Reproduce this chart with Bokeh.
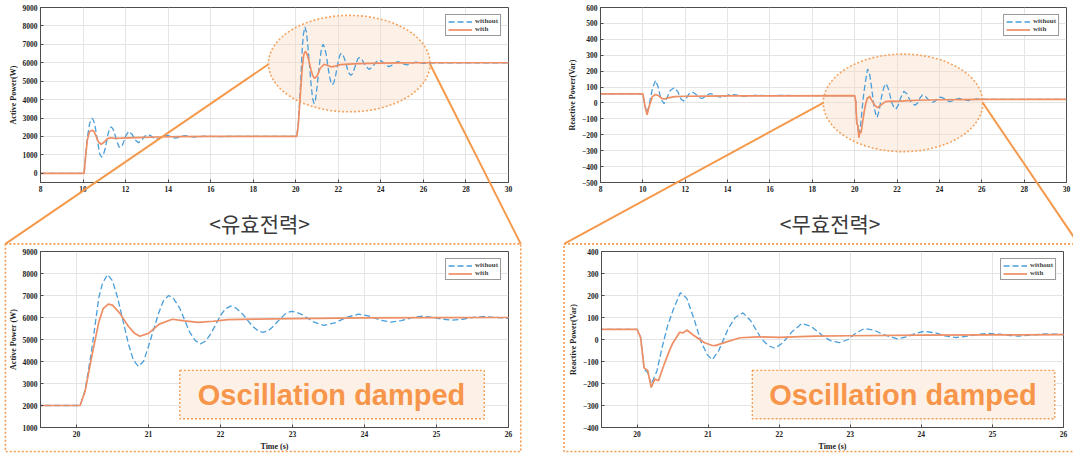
from bokeh.plotting import figure
from bokeh.models import (Range1d, FixedTicker, Legend, LegendItem, Label)
from bokeh.layouts import row, column
from bokeh.embed import file_html
from bokeh.resources import INLINE

# ---------------- data ----------------
SERIES_NAMES = ["without", "with"]

T_P_WITHOUT = [8.0, 10.05, 10.12, 10.2, 10.3, 10.36, 10.43, 10.5, 10.58, 10.73, 10.8, 10.88, 10.95,
               11.03, 11.17, 11.25, 11.32, 11.39, 11.46, 11.61, 11.68, 11.75, 11.82, 11.88, 12.02,
               12.15, 12.3, 12.45, 12.6, 12.74, 12.89, 13.03, 13.17, 13.32, 13.46, 13.6, 13.75, 13.9,
               14.05, 14.2, 14.35, 14.5, 14.65, 14.8, 15.0, 15.25, 15.5, 15.7, 16.0, 16.2, 17.0, 20.05,
               20.12, 20.21, 20.31, 20.36, 20.43, 20.5, 20.57, 20.72, 20.79, 20.86, 20.93, 20.99,
               21.14, 21.21, 21.28, 21.35, 21.43, 21.57, 21.65, 21.72, 21.79, 21.86, 22.0, 22.07,
               22.14, 22.21, 22.29, 22.44, 22.52, 22.59, 22.66, 22.72, 22.86, 22.92, 22.99, 23.06,
               23.14, 23.29, 23.44, 23.6, 23.76, 23.92, 24.07, 24.22, 24.37, 24.51, 24.66, 24.8,
               24.94, 25.08, 25.22, 25.36, 25.5, 25.65, 25.8, 26.0, 26.2, 27.0, 30.0]
P_WITHOUT = [0, 0, 900, 1900, 2650, 2880, 2990, 2850, 2460, 1410, 1000, 880, 1000,
             1290, 2110, 2420, 2520, 2440, 2240, 1670, 1460, 1390, 1470, 1610, 2060,
             2280, 2125, 1815, 1660, 1770, 2000, 2110, 2045, 1915, 1850, 1905, 2015, 2070,
             2030, 1950, 1910, 1945, 2015, 2050, 2005, 1960, 1990, 2020, 2000, 1990, 2000, 2000,
             2700, 4500, 6900, 7550, 7950, 7670, 6910, 4820, 4060, 3780, 4000, 4585,
             6195, 6780, 7000, 6850, 6450, 5350, 4950, 4800, 4920, 5230, 6090, 6400,
             6520, 6440, 6220, 5620, 5400, 5320, 5390, 5560, 6040, 6220, 6280, 6230,
             6120, 5800, 5640, 5770, 6020, 6150, 6060, 5880, 5790, 5860, 5990, 6060,
             6015, 5925, 5880, 5920, 6000, 6040, 6010, 5965, 5985, 6000, 6000]

T_P_WITH = [8.0, 10.05, 10.12, 10.2, 10.3, 10.38, 10.45, 10.52, 10.6, 10.72, 10.85, 11.0, 11.15,
            11.3, 11.5, 11.8, 12.5, 13.5, 14.5, 16.0, 20.05, 20.12, 20.21, 20.31, 20.37, 20.44,
            20.5, 20.6, 20.72, 20.8, 20.88, 21.0, 21.15, 21.33, 21.5, 21.69, 21.9, 22.1, 22.5,
            23.0, 24.0, 25.0, 26.0, 30.0]
P_WITH = [0, 0, 900, 1800, 2250, 2320, 2330, 2260, 2050, 1700, 1570, 1700, 1880,
          1930, 1900, 1910, 1940, 1970, 1990, 2000, 2000, 2650, 4200, 5800, 6400, 6610,
          6560, 6200, 5600, 5300, 5150, 5280, 5700, 5920, 5850, 5780, 5830, 5900, 5930,
          5950, 5980, 5990, 6000, 6000]

T_Q_WITHOUT = [8.0, 10.0, 10.1, 10.2, 10.3, 10.45, 10.6, 10.72, 10.85, 11.0, 11.13, 11.3, 11.5,
               11.65, 11.8, 11.92, 12.05, 12.2, 12.32, 12.5, 12.65, 12.8, 12.95, 13.1, 13.22,
               13.4, 13.6, 13.75, 13.95, 14.15, 14.4, 14.7, 15.0, 15.4, 15.8, 16.5, 18.0, 20.0,
               20.05, 20.1, 20.15, 20.2, 20.28, 20.35, 20.43, 20.51, 20.61, 20.7, 20.8, 20.9,
               20.99, 21.06, 21.15, 21.28, 21.38, 21.49, 21.6, 21.75, 21.85, 21.94, 22.05,
               22.18, 22.32, 22.45, 22.6, 22.72, 22.85, 22.97, 23.08, 23.2, 23.33, 23.47,
               23.66, 23.8, 23.92, 24.04, 24.2, 24.35, 24.49, 24.65, 24.8, 24.94, 25.1, 25.25,
               25.37, 25.55, 25.75, 25.9, 26.0, 27.0, 30.0]
Q_WITHOUT = [57, 57, -20, -65, -10, 90, 142, 100, 25, -5, 30, 80, 97,
             70, 25, 12, 30, 60, 70, 55, 35, 28, 40, 55, 58,
             48, 38, 36, 46, 54, 50, 42, 44, 49, 46, 47, 46, 46,
             10, -136, -150, -203, -143, -40, 62, 136, 213, 187, 95, -10,
             -70, -92, -50, 47, 100, 121, 85, 3, -28, -40, -15,
             35, 73, 60, 20, -5, -14, 0, 30, 50, 43, 22,
             3, 12, 28, 37, 30, 15, 9, 15, 24, 28, 24, 18,
             15, 20, 25, 24, 22, 23, 22]

T_Q_WITH = [8.0, 10.0, 10.1, 10.2, 10.3, 10.45, 10.6, 10.75, 10.9, 11.0, 11.2, 11.5, 12.0, 13.0,
            14.0, 16.0, 20.0, 20.05, 20.1, 20.15, 20.2, 20.25, 20.3, 20.38, 20.45, 20.5, 20.6,
            20.65, 20.7, 20.8, 20.95, 21.05, 21.1, 21.25, 21.45, 21.7, 22.0, 22.5, 23.0, 24.0,
            25.0, 26.0, 30.0]
Q_WITH = [57, 57, -20, -75, -20, 40, 53, 45, 28, 25, 32, 40, 42, 43,
          44, 45, 46, 10, -130, -140, -218, -180, -188, -115, -55, -18, 33,
          30, 43, 18, -15, -26, -28, -12, 8, 12, 10, 15, 17, 20,
          21, 22, 22]

X_TICKS_FULL = [8, 10, 12, 14, 16, 18, 20, 22, 24, 26, 28, 30]
X_TICKS_ZOOM = [20, 21, 22, 23, 24, 25, 26]
P_TICKS_FULL = [0, 1000, 2000, 3000, 4000, 5000, 6000, 7000, 8000, 9000]
P_TICKS_ZOOM = [1000, 2000, 3000, 4000, 5000, 6000, 7000, 8000, 9000]
Q_TICKS_FULL = [-500, -400, -300, -200, -100, 0, 100, 200, 300, 400, 500, 600]
Q_TICKS_ZOOM = [-400, -300, -200, -100, 0, 100, 200, 300, 400]

TITLES = ["<유효전력>", "<무효전력>"]
NOTE = "Oscillation damped"

# ---------------- styling / layout ----------------
SX = 1073 / 1089
SY = 453 / 469
BLUE = "#4A9EDA"
ORANGE = "#EE8E64"
ACCENT = "#F59A4C"
SERIF = "Liberation Serif"


def make_panel(spec, xr, yr, xticks, yticks, ylabel, xlabel):
    ox, oy, w, h, ml, mt, fw, fh = spec
    p = figure(width=w, height=h, x_range=Range1d(*xr), y_range=Range1d(*yr),
               output_backend="svg", toolbar_location=None,
               min_border_left=ml, min_border_top=mt,
               min_border_right=w - ml - fw, min_border_bottom=h - mt - fh)
    p.extra_x_ranges = {"gx": Range1d(start=(ox + ml) / SX, end=(ox + ml + fw) / SX)}
    p.extra_y_ranges = {"gy": Range1d(start=(oy + mt + fh) / SY, end=(oy + mt) / SY)}
    p.outline_line_color = "#4D4D4D"
    p.grid.grid_line_color = "#E4E4E4"
    xa = p.xaxis[0]
    ya = p.yaxis[0]
    xa.ticker = FixedTicker(ticks=xticks, minor_ticks=[])
    ya.ticker = FixedTicker(ticks=yticks, minor_ticks=[])
    for ax in (xa, ya):
        ax.major_label_text_font = SERIF
        ax.major_label_text_font_style = "bold"
        ax.major_label_text_font_size = "7.5px"
        ax.major_label_text_color = "#222222"
        ax.axis_label_text_font = SERIF
        ax.axis_label_text_font_style = "bold"
        ax.axis_label_text_font_size = "8px"
        ax.axis_label_text_color = "#222222"
        ax.axis_line_color = "#4D4D4D"
        ax.major_tick_line_color = "#4D4D4D"
        ax.major_tick_in = 3
        ax.major_tick_out = 0
        ax.minor_tick_line_color = None
        ax.major_label_standoff = 3
        ax.axis_label_standoff = 2
    ya.axis_label = ylabel
    if xlabel:
        xa.axis_label = xlabel
    return p


def add_series(p, tw, yw, t, y):
    r1 = p.line(tw, yw, line_color=BLUE, line_width=1.3, line_dash="6 3")
    r2 = p.line(t, y, line_color=ORANGE, line_width=1.7)
    leg = Legend(items=[LegendItem(label=SERIES_NAMES[0], renderers=[r1]),
                        LegendItem(label=SERIES_NAMES[1], renderers=[r2])],
                 location="top_right", margin=7, padding=2, spacing=0,
                 glyph_width=24, glyph_height=7, label_height=7, label_standoff=3,
                 label_text_font_size="7px", label_text_font=SERIF,
                 label_text_font_style="bold", border_line_color="#333333",
                 border_line_width=1)
    p.add_layout(leg)


def ellipse(p, cx, cy, w, h):
    p.ellipse(x=cx, y=cy, width=w, height=h, fill_color="#FBDDC4", fill_alpha=0.4,
              line_color="#F4A460", line_width=1.6, line_dash="2 2",
              x_range_name="gx", y_range_name="gy")


# ---- top-left: active power, full ----
tl = make_panel((0, 0, 540, 240, 40, 7, 468, 177), (8, 30), (-500, 9000),
                X_TICKS_FULL, P_TICKS_FULL, "Active Power(W)", None)
ellipse(tl, 354, 66, 164, 101)
add_series(tl, T_P_WITHOUT, P_WITHOUT, T_P_WITH, P_WITH)

# ---- top-right: reactive power, full ----
tr = make_panel((540, 0, 533, 240, 60, 7, 466, 175), (8, 30), (-500, 600),
                X_TICKS_FULL, Q_TICKS_FULL, "Reactive Power(Var)", None)
ellipse(tr, 916, 106, 162, 101)
add_series(tr, T_Q_WITHOUT, Q_WITHOUT, T_Q_WITH, Q_WITH)

# ---- bottom-left: active power, zoom ----
bl = make_panel((0, 240, 540, 213, 40, 11, 468, 177), (19.5, 26), (1000, 9000),
                X_TICKS_ZOOM, P_TICKS_ZOOM, "Active Power (W)", "Time (s)")
add_series(bl, T_P_WITHOUT, P_WITHOUT, T_P_WITH, P_WITH)

# ---- bottom-right: reactive power, zoom ----
br = make_panel((540, 240, 533, 213, 61, 11, 462, 176), (19.5, 26), (-400, 400),
                X_TICKS_ZOOM, Q_TICKS_ZOOM, "Reactive Power(Var)", "Time (s)")
add_series(br, T_Q_WITHOUT, Q_WITHOUT, T_Q_WITH, Q_WITH)

# ---- overlay with the call-out decorations (coordinates in picture pixels) ----
ov = figure(width=1073, height=453, x_range=Range1d(0, 1089), y_range=Range1d(469, 0),
            output_backend="svg", toolbar_location=None, min_border=0,
            x_axis_location=None, y_axis_location=None, outline_line_color=None,
            background_fill_alpha=0, border_fill_alpha=0,
            styles={"position": "absolute", "left": "0px", "top": "0px",
                    "pointer-events": "none"})
ov.grid.visible = False
# zoom connectors
ov.segment(x0=[272, 436, 835, 997], y0=[66, 66, 106, 106],
           x1=[5, 528, 572, 1094], y1=[252, 252, 252, 252],
           line_color=ACCENT, line_width=2)
# dotted outer frames around the zoomed panels
ov.quad(left=[5, 572], right=[528, 1094], top=[252, 252], bottom=[467, 467],
        fill_alpha=0, line_color=ACCENT, line_width=1.6, line_dash="2 2")
# note boxes
ov.quad(left=[182, 763], right=[491, 1070], top=[383, 383], bottom=[433, 433],
        fill_color="#FDF1E7", fill_alpha=1, line_color=ACCENT, line_width=1.3,
        line_dash="2 2")
for cx in (336, 916):
    ov.add_layout(Label(x=cx, y=408, text=NOTE, text_align="center", text_baseline="middle",
                        text_font="Liberation Sans", text_font_style="bold",
                        text_font_size="29px", text_color="#F7964A"))
for cx, txt in zip((263, 842), TITLES):
    ov.add_layout(Label(x=cx, y=230, text=txt, text_align="center", text_baseline="middle",
                        text_font="Noto Sans CJK KR", text_font_size="21px",
                        text_color="#3A3A3A"))

layout = column(row(tl, tr), row(bl, br), ov)
open("out.html", "w").write(file_html(layout, INLINE))
